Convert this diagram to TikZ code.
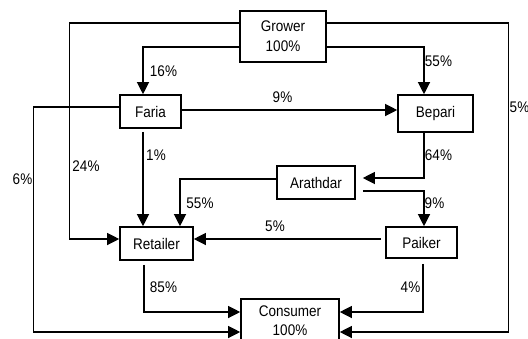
\documentclass[tikz,border=0pt]{standalone}
\usepackage{fontspec}
\usepackage{graphicx}
\setmainfont{Liberation Sans}
\usetikzlibrary{arrows.meta}
\newcommand{\tx}[1]{\scalebox{1}[1.14]{#1}}
\begin{document}
\begin{tikzpicture}[x=1pt,y=1pt,
 box/.style={draw, line width=1.6pt, inner sep=0pt, font=\fontsize{13.5}{20}\selectfont, align=center},
 arr/.style={line width=1.2pt, -{Triangle[length=12pt,width=12pt]}},
 lbl/.style={font=\fontsize{13.5}{15}\selectfont, inner sep=0pt}]
\useasboundingbox (0,0) rectangle (528,-338);
\clip (0,0) rectangle (528,-338);
% nodes
\node[box, minimum width=86pt, minimum height=51pt] (grower) at (283,-36.5) {\tx{Grower}\\\tx{100\%}};
\node[box, minimum width=61pt, minimum height=33pt] (faria) at (150.5,-111.5) {\tx{Faria}};
\node[box, minimum width=75pt, minimum height=37pt] (bepari) at (435.5,-113.5) {\tx{Bepari}};
\node[box, minimum width=78pt, minimum height=33pt] (arathdar) at (316,-182.5) {\tx{Arathdar}};
\node[box, minimum width=73pt, minimum height=33pt] (retailer) at (156.5,-243.5) {\tx{Retailer}};
\node[box, minimum width=71pt, minimum height=31pt] (paiker) at (421.5,-242.5) {\tx{Paiker}};
\node[box, minimum width=98pt, minimum height=44pt, font=\fontsize{13.5}{19}\selectfont] (consumer) at (290,-321) {\tx{Consumer}\\\tx{100\%}};
% connectors
\draw[arr] ([yshift=13.5pt]grower.west) -- ++(-170,0) |- ([yshift=4.5pt]retailer.west);
\draw[arr] ([yshift=-10.5pt]grower.west) -| ([xshift=-7.5pt]faria.north);
\draw[arr] ([yshift=-10.5pt]grower.east) -| ([xshift=-11.5pt]bepari.north);
\draw[arr] ([yshift=13.5pt]grower.east) -- ++(182,0) |- ([yshift=-11pt]consumer.east);
\draw[arr] ([yshift=1.5pt]faria.east) -- ([yshift=3.5pt]bepari.west);
\draw[arr] ([yshift=4.5pt]faria.west) -- ++(-86,0) |- ([yshift=-11pt]consumer.west);
\draw[arr] ([xshift=-7.5pt,yshift=-3pt]faria.south) -- ([xshift=-13.5pt]retailer.north);
\draw[arr] ([xshift=-11.5pt]bepari.south) |- ([xshift=7pt,yshift=4.5pt]arathdar.east);
\draw[arr] ([xshift=7pt,yshift=-8.5pt]arathdar.east) -| ([xshift=2.5pt]paiker.north);
\draw[arr] ([yshift=3.5pt]arathdar.west) -| ([xshift=23.5pt]retailer.north);
\draw[arr] ([xshift=-4pt,yshift=3.5pt]paiker.west) -- ([yshift=4.5pt]retailer.east);
\draw[arr] ([xshift=-12.5pt,yshift=-4pt]retailer.south) |- ([yshift=9pt]consumer.west);
\draw[arr] ([xshift=1.5pt,yshift=-5pt]paiker.south) |- ([yshift=9pt]consumer.east);
% labels
\node[lbl] (l16) at (163.5,-71.5) {\tx{16\%}};
\node[lbl] (l55a) at (438.5,-61) {\tx{55\%}};
\node[lbl] (l9a) at (282.5,-97.5) {\tx{9\%}};
\node[lbl] (l5r) at (519.5,-107.5) {\tx{5\%}};
\node[lbl] (l6) at (22.5,-179) {\tx{6\%}};
\node[lbl] (l24) at (86,-166.5) {\tx{24\%}};
\node[lbl] (l1) at (156,-155) {\tx{1\%}};
\node[lbl] (l64) at (438.5,-155.5) {\tx{64\%}};
\node[lbl] (l55b) at (200,-203.5) {\tx{55\%}};
\node[lbl] (l9b) at (434.5,-203) {\tx{9\%}};
\node[lbl] (l5m) at (275,-226) {\tx{5\%}};
\node[lbl] (l85) at (163.5,-287.5) {\tx{85\%}};
\node[lbl] (l4) at (410.5,-287.5) {\tx{4\%}};
\end{tikzpicture}
\end{document}
